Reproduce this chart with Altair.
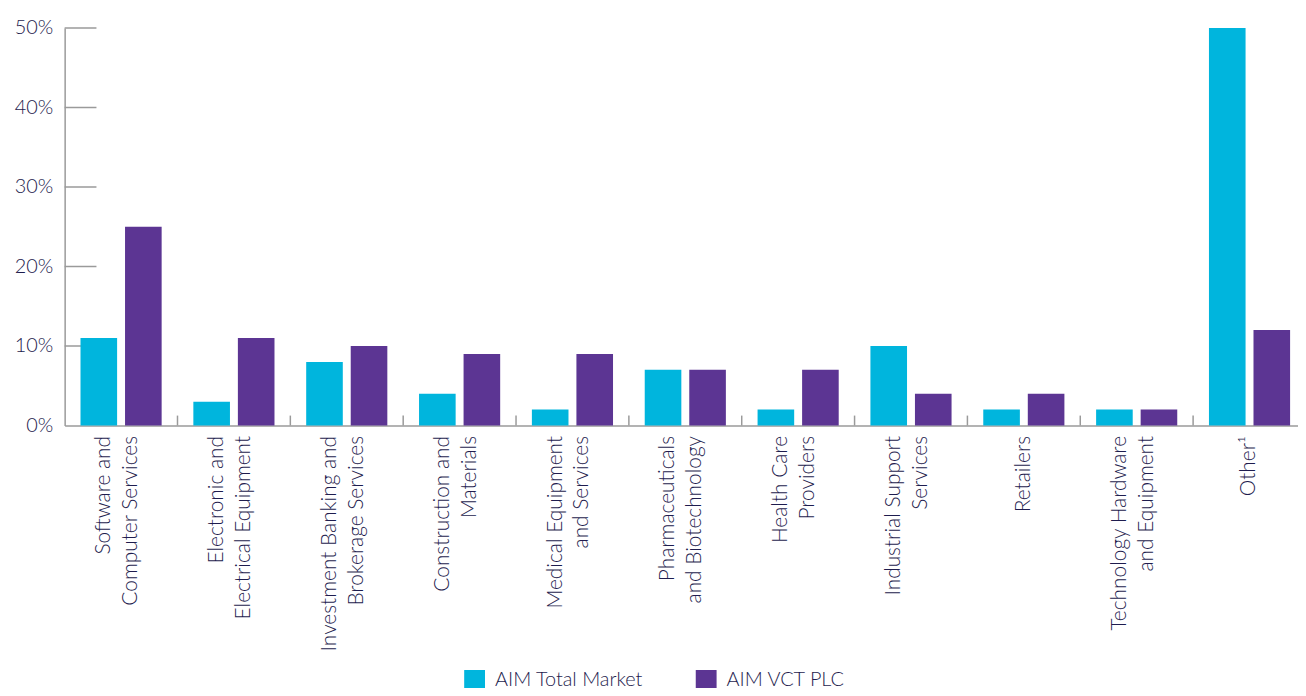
import altair as alt
import pandas as pd

categories = [
    "Software and|Computer Services",
    "Electronic and|Electrical Equipment",
    "Investment Banking and|Brokerage Services",
    "Construction and|Materials",
    "Medical Equipment|and Services",
    "Pharmaceuticals|and Biotechnology",
    "Health Care|Providers",
    "Industrial Support|Services",
    "Retailers",
    "Technology Hardware|and Equipment",
    "Other¹",
]
series = ["AIM Total Market", "AIM VCT PLC"]
aim_total = [11, 3, 8, 4, 2, 7, 2, 10, 2, 2, 50]
aim_vct = [25, 11, 10, 9, 9, 7, 7, 4, 4, 2, 12]
y_ticks = [10, 20, 30, 40, 50]
colors = ["#00B5DD", "#5C3593"]

rows = []
for c, a, b in zip(categories, aim_total, aim_vct):
    rows.append({"cat": c, "series": series[0], "value": a})
    rows.append({"cat": c, "series": series[1], "value": b})
df = pd.DataFrame(rows)
tick_df = pd.DataFrame({"value": y_ticks})
sep_df = pd.DataFrame({"cat": categories[1:]})

TEXT = "#1E1C4E"
GRAY = "#9A9A9A"
FONT = "Lato"

yscale = alt.Scale(domain=[0, 50])
yaxis = alt.Axis(
    values=[0, 10, 20, 30, 40, 50], labelExpr="datum.value + '%'", title=None,
    ticks=False, grid=False, domainColor=GRAY, domainWidth=1.5,
    labelFontSize=20, labelColor=TEXT, labelFont=FONT, labelFontWeight=300,
    labelPadding=12,
)
xscale = alt.Scale(domain=categories, rangeMin=0, rangeMax=1249, paddingInner=0,
                   paddingOuter=0, align=0, round=False)
xaxis = alt.Axis(
    title=None, ticks=False, grid=False, domainColor=GRAY, domainWidth=1.5,
    labelAngle=-90, labelFontSize=21, labelColor=TEXT, labelFont=FONT,
    labelFontWeight=300, labelLineHeight=27, labelPadding=10, labelLimit=0,
    labelExpr="split(datum.label, '|')",
    labelOffset={"condition": {"test": "indexof(datum.value, '|') >= 0", "value": -17},
                 "value": 0},
)

ticks = alt.Chart(tick_df).mark_rule(color=GRAY, strokeWidth=1.5).encode(
    y=alt.Y("value:Q", scale=yscale, axis=yaxis),
    x=alt.value(0), x2=alt.value(32),
)

bars = alt.Chart(df).mark_bar().encode(
    x=alt.X("cat:N", sort=categories, scale=xscale, axis=xaxis),
    xOffset=alt.XOffset("series:N", sort=series,
                        scale=alt.Scale(paddingInner=0.178, paddingOuter=0.356,
                                        round=False)),
    y=alt.Y("value:Q", scale=yscale, axis=yaxis),
    color=alt.Color("series:N", sort=series,
                    scale=alt.Scale(domain=series, range=colors),
                    legend=alt.Legend(
                        orient="none", legendX=402, legendY=646, direction="horizontal",
                        title=None, symbolType="square", symbolSize=440,
                        symbolStrokeWidth=0, symbolOpacity=1,
                        labelFontSize=20, labelColor=TEXT, labelFont=FONT,
                        labelFontWeight=300,
                        labelOffset=10, columnPadding=52, padding=0)),
)

seps = alt.Chart(sep_df).mark_rule(color=GRAY, strokeWidth=1.5).encode(
    x=alt.X("cat:N", sort=categories, scale=xscale, axis=xaxis, bandPosition=0),
    y=alt.value(390), y2=alt.value(400),
)

chart = alt.layer(ticks, seps, bars).properties(
    width=1241, height=400,
    autosize=alt.AutoSizeParams(type="none"),
    padding={"left": 57, "top": 18, "right": 0, "bottom": 262},
).configure(font=FONT, view=alt.ViewConfig(stroke=None))

chart.save("out.html", embed_options={"renderer": "svg", "actions": False})
